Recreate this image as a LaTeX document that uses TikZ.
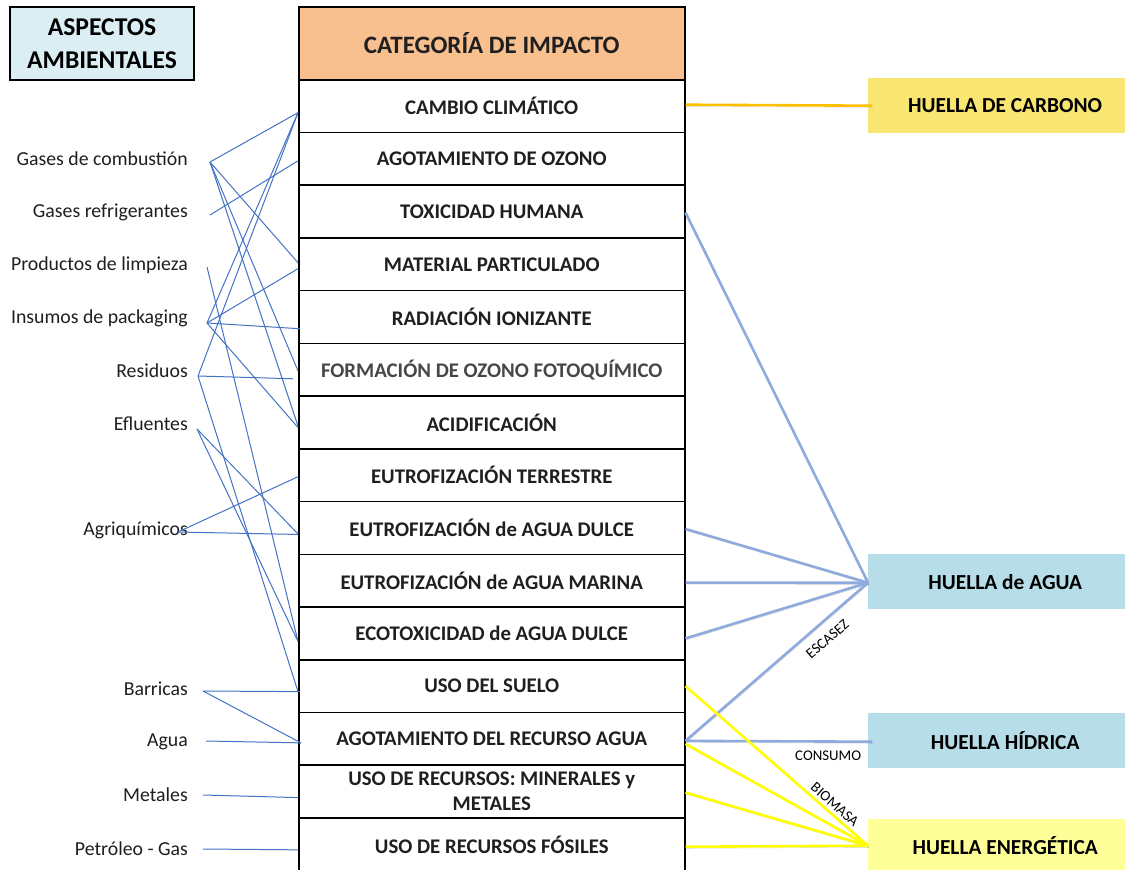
\documentclass[tikz,border=0pt]{standalone}
\usepackage{fontspec}
\setmainfont{Carlito}
\usetikzlibrary{calc}

\definecolor{peach}{HTML}{F8BF8F}
\definecolor{aspectfill}{HTML}{DAEEF3}
\definecolor{linkblue}{HTML}{4472C4}
\definecolor{waterblue}{HTML}{8FAADC}
\definecolor{waterfill}{HTML}{B7DDE8}
\definecolor{carbonfill}{HTML}{F9E572}
\definecolor{energyfill}{HTML}{FFFF99}
\definecolor{goldline}{HTML}{FFC000}
\definecolor{brightyellow}{HTML}{FFFF00}

\begin{document}
\begin{tikzpicture}[x=1pt,y=-1pt,
  cat/.style={draw=black, line width=1.5pt, minimum width=386pt, minimum height=52.73pt,
    inner sep=0pt, font=\fontsize{20.8}{24}\selectfont\bfseries, text=black!88, align=center, anchor=north west},
  aspect/.style={anchor=east, font=\fontsize{19.8}{22}\selectfont, text=black!88, inner sep=0pt},
  huella/.style={minimum width=274pt, minimum height=55pt, anchor=north west, inner sep=0pt,
    font=\fontsize{21.4}{24}\selectfont\bfseries},
  lk/.style={linkblue, line width=1pt},
  shadowed/.style={preaction={draw=black, opacity=0.18, transform canvas={shift={(0.8pt,-1.6pt)}}}},
  wl/.style={waterblue, line width=2.6pt, shadowed},
  yl/.style={brightyellow, line width=2.6pt, shadowed},
  gl/.style={goldline, line width=2.6pt, shadowed},
  tag/.style={font=\fontsize{14.8}{16}\selectfont, inner sep=0pt, text=black}
]
\clip (0,0) rectangle (1125,870);
\fill[white] (0,0) rectangle (1125,870);

% left title box
\node[draw=black, line width=2pt, fill=aspectfill, minimum width=184pt, minimum height=73pt,
  anchor=north west, align=center, inner sep=0pt,
  font=\fontsize{25.6}{33}\selectfont\bfseries] (asp) at (9,6) {ASPECTOS\\AMBIENTALES};

% impact category column
\node[cat, minimum height=73pt, fill=peach, font=\fontsize{25}{28}\selectfont\bfseries] (hd) at (298,6) {CATEGORÍA DE IMPACTO};
\node[cat] (r1)  at (298,79)     {CAMBIO CLIMÁTICO};
\node[cat] (r2)  at (298,131.73) {AGOTAMIENTO DE OZONO};
\node[cat] (r3)  at (298,184.46) {TOXICIDAD HUMANA};
\node[cat] (r4)  at (298,237.19) {MATERIAL PARTICULADO};
\node[cat] (r5)  at (298,289.92) {RADIACIÓN IONIZANTE};
\node[cat, text=black!72] (r6)  at (298,342.65) {FORMACIÓN DE OZONO FOTOQUÍMICO};
\node[cat] (r7)  at (298,395.38) {ACIDIFICACIÓN};
\node[cat] (r8)  at (298,448.11) {EUTROFIZACIÓN TERRESTRE};
\node[cat] (r9)  at (298,500.84) {EUTROFIZACIÓN de AGUA DULCE};
\node[cat] (r10) at (298,553.57) {EUTROFIZACIÓN de AGUA MARINA};
\node[cat] (r11) at (298,606.30) {ECOTOXICIDAD de AGUA DULCE};
\node[cat] (r12) at (298,659.03) {USO DEL SUELO};
\node[cat] (r13) at (298,711.76) {AGOTAMIENTO DEL RECURSO AGUA};
\node[cat, font=\fontsize{20.8}{25}\selectfont\bfseries] (r14) at (298,764.49) {\rule{0pt}{11pt}USO DE RECURSOS: MINERALES y\\METALES};
\node[cat] (r15) at (298,817.22) {USO DE RECURSOS FÓSILES};

% environmental aspects
\node[aspect] (gc) at (188,159) {Gases de combustión};
\node[aspect] (gr) at (188,212) {Gases refrigerantes};
\node[aspect] (pl) at (188,265) {Productos de limpieza};
\node[aspect] (ip) at (188,318) {Insumos de packaging};
\node[aspect] (rs) at (188,371) {Residuos};
\node[aspect] (ef) at (188,424) {Efluentes};
\node[aspect] (ag) at (188,530) {Agriquímicos};
\node[aspect] (ba) at (188,689) {Barricas};
\node[aspect] (wa) at (188,742) {Agua};
\node[aspect] (me) at (188,795) {Metales};
\node[aspect] (pg) at (188,849) {Petróleo - Gas};

% line origins beside the aspect labels
\coordinate (gc-o) at (210,162);
\coordinate (gr-o) at (210,215);
\coordinate (pl-o) at (207,267);
\coordinate (ip-o) at (207,323);
\coordinate (rs-o) at (198,376);
\coordinate (ef-o) at (197,429);
\coordinate (ag-o) at (178,532);
\coordinate (ba-o) at (203,691);
\coordinate (wa-o) at (206,741);
\coordinate (me-o) at (203,795);
\coordinate (pg-o) at (203,849);

% footprints
\node[huella, fill=carbonfill] (hc) at (868,78)  {HUELLA DE CARBONO};
\node[huella, fill=waterfill]  (ha) at (868,554) {HUELLA de AGUA};
\node[huella, fill=waterfill]  (hh) at (868,713) {HUELLA HÍDRICA};
\node[huella, fill=energyfill, minimum height=53pt] (he) at (868,819) {HUELLA ENERGÉTICA};

% aspect -> category links
\draw[lk] (gc-o) -- ([yshift=-6.6pt]r1.west);
\draw[lk] (gc-o) -- ([yshift=1.6pt]r4.west);
\draw[lk] (gc-o) -- ([yshift=-1pt]r6.west);
\draw[lk] (gc-o) -- ([yshift=-3.5pt]r7.west);
\draw[lk] (gr-o) -- ([yshift=-2pt]r2.west);
\draw[lk] (pl-o) -- ([yshift=-8pt]r11.west);
\draw[lk] (ip-o) -- ([yshift=-6.6pt]r1.west);
\draw[lk] (ip-o) -- ([yshift=-4.4pt]r4.west);
\draw[lk] (ip-o) -- ([xshift=2pt,yshift=-11.7pt]r5.west);
\draw[lk] (ip-o) -- ([yshift=-5pt]r7.west);
\draw[lk] (rs-o) -- ([yshift=-6.6pt]r1.west);
\draw[lk] (rs-o) -- ([xshift=-5pt,yshift=-9pt]r6.west);
\draw[lk] (rs-o) -- ([yshift=-5.5pt]r12.west);
\draw[lk] (ef-o) -- ([yshift=-6pt]r9.west);
\draw[lk] (ef-o) -- ([yshift=-8pt]r11.west);
\draw[lk] (ag-o) -- ([yshift=-1.5pt]r8.west);
\draw[lk] (ag-o) -- ([yshift=-6.5pt]r9.west);
\draw[lk] (ba-o) -- ([xshift=2pt,yshift=-5.5pt]r12.west);
\draw[lk] (ba-o) -- ([xshift=3pt,yshift=-4pt]r13.west);
\draw[lk] (wa-o) -- ([xshift=3pt,yshift=-4pt]r13.west);
\draw[lk] (me-o) -- ([yshift=-6pt]r14.west);
\draw[lk] (pg-o) -- ([yshift=-5.5pt]r15.west);

% category -> footprint links
\draw[gl] ([yshift=1.4pt]r1.east) -- ([xshift=4pt]hc.west);
\draw[wl] ([yshift=-1pt]r3.east) -- ([yshift=-1pt]ha.west);
\draw[wl] ([yshift=-1pt]r9.east) -- ([yshift=-1pt]ha.west);
\draw[wl] ([yshift=-2pt]r10.east) -- ([yshift=-1pt]ha.west);
\draw[wl] ([yshift=-5pt]r11.east) -- ([yshift=-1pt]ha.west);
\draw[wl] ([yshift=-2pt]r13.east) -- ([yshift=-1pt]ha.west)
  node[tag, pos=0.72, sloped, below=10pt] {ESCASEZ};
\draw[wl] ([yshift=-2pt]r13.east) -- ([xshift=4pt,yshift=-1pt]hh.west)
  node[tag, pos=0.765, below=8pt] {CONSUMO};
\draw[yl] (r12.east) -- (he.west)
  node[tag, pos=0.785, sloped, above=3pt] {BIOMASA};
\draw[yl] ([yshift=-5pt]r13.east) -- (he.west);
\draw[yl] ([yshift=-1pt]r14.east) -- (he.west);
\draw[yl] ([yshift=-2.4pt]r15.east) -- (he.west);
\end{tikzpicture}
\end{document}
